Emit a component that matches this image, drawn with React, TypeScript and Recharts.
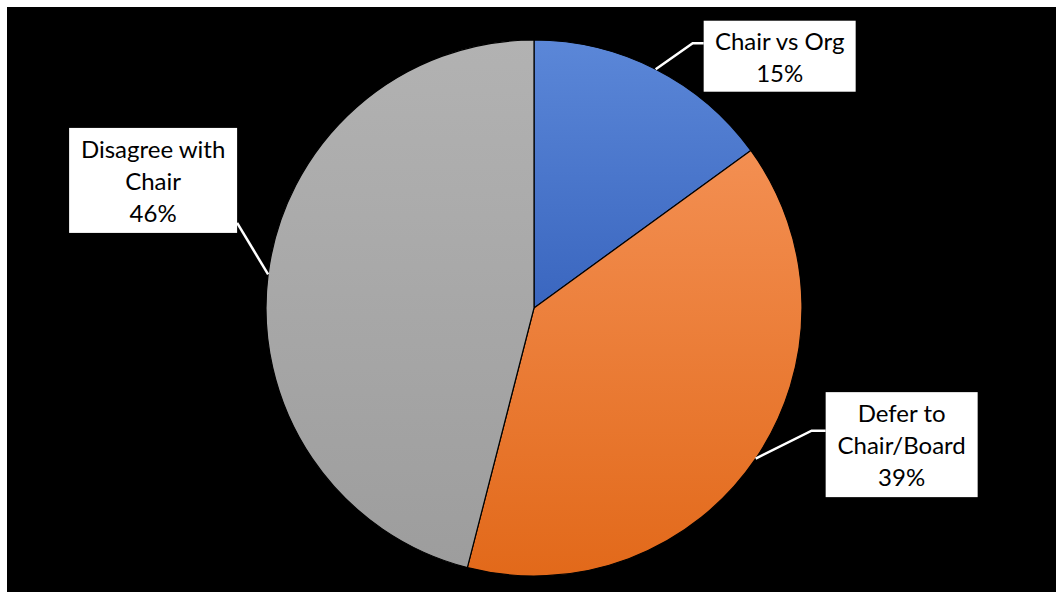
import { PieChart, Pie, Cell } from 'recharts';

const categories = ['Chair vs Org', 'Defer to\nChair/Board', 'Disagree with\nChair'];
const shares = [15, 39, 46];

const sliceColors = [
    { top: '#5B87D8', bottom: '#3A66BF' },
    { top: '#F38F52', bottom: '#E2691A' },
    { top: '#B2B2B2', bottom: '#9D9D9D' },
];

// label box placement relative to the slice's edge point (mid-angle on the rim)
const labelLayout = [
    { dx: 124, dy: -13, w: 152, h: 71, elbow: [37, -26] },
    { dx: 146, dy: -14, w: 152, h: 105, elbow: [56, -28] },
    { dx: -115, dy: -94, w: 168, h: 105, elbow: null },
];

const data = categories.map((name, i) => ({ name, value: shares[i] }));

const RADIAN = Math.PI / 180;
const FONT = 'Lato, "Open Sans", sans-serif';

function renderLabel(props: any) {
    const { cx, cy, midAngle, outerRadius, index, percent, name } = props;
    const ex = cx + outerRadius * Math.cos(-midAngle * RADIAN);
    const ey = cy + outerRadius * Math.sin(-midAngle * RADIAN);
    const lay = labelLayout[index];
    const bx = ex + lay.dx - lay.w / 2;
    const by = ey + lay.dy - lay.h / 2;
    const lines = [...String(name).split('\n'), `${Math.round(percent * 100)}%`];
    const lineH = 32;
    const firstY = ey + lay.dy - ((lines.length - 1) * lineH) / 2;

    let path: string;
    if (lay.elbow) {
        const mx = ex + lay.elbow[0];
        const my = ey + lay.elbow[1];
        path = `M${ex},${ey} L${mx},${my} L${bx},${my}`;
    } else {
        path = `M${ex},${ey} L${bx + lay.w},${by + lay.h - 10}`;
    }

    return (
        <g key={`lbl-${index}`}>
            <path d={path} stroke="#fff" strokeWidth={2.5} fill="none" />
            <rect x={bx} y={by} width={lay.w} height={lay.h} fill="#fff" />
            {lines.map((t, i) => (
                <text
                    key={i}
                    x={bx + lay.w / 2}
                    y={firstY + i * lineH}
                    textAnchor="middle"
                    dominantBaseline="central"
                    fontFamily={FONT}
                    fontSize={24}
                    fill="#000"
                >
                    {t}
                </text>
            ))}
        </g>
    );
}

export default function App() {
    return (
        <div style={{ position: 'fixed', left: 0, top: 0, width: 1056, height: 592, background: '#fff' }}>
            <div style={{ position: 'absolute', left: 7, top: 7, width: 1049, height: 585, background: '#000' }}>
                <PieChart width={1049} height={585} margin={{ top: 0, right: 0, bottom: 0, left: 0 }}>
                    <defs>
                        {sliceColors.map((c, i) => (
                            <linearGradient key={i} id={`slice-grad-${i}`} x1="0" y1="0" x2="0" y2="1">
                                <stop offset="0%" stopColor={c.top} />
                                <stop offset="100%" stopColor={c.bottom} />
                            </linearGradient>
                        ))}
                    </defs>
                    <Pie
                        data={data}
                        dataKey="value"
                        nameKey="name"
                        cx={527}
                        cy={301}
                        outerRadius={268}
                        startAngle={90}
                        endAngle={-270}
                        stroke="#000"
                        strokeWidth={1.2}
                        label={renderLabel}
                        labelLine={false}
                        isAnimationActive={false}
                    >
                        {data.map((_, i) => (
                            <Cell key={i} fill={`url(#slice-grad-${i})`} />
                        ))}
                    </Pie>
                </PieChart>
            </div>
        </div>
    );
}
